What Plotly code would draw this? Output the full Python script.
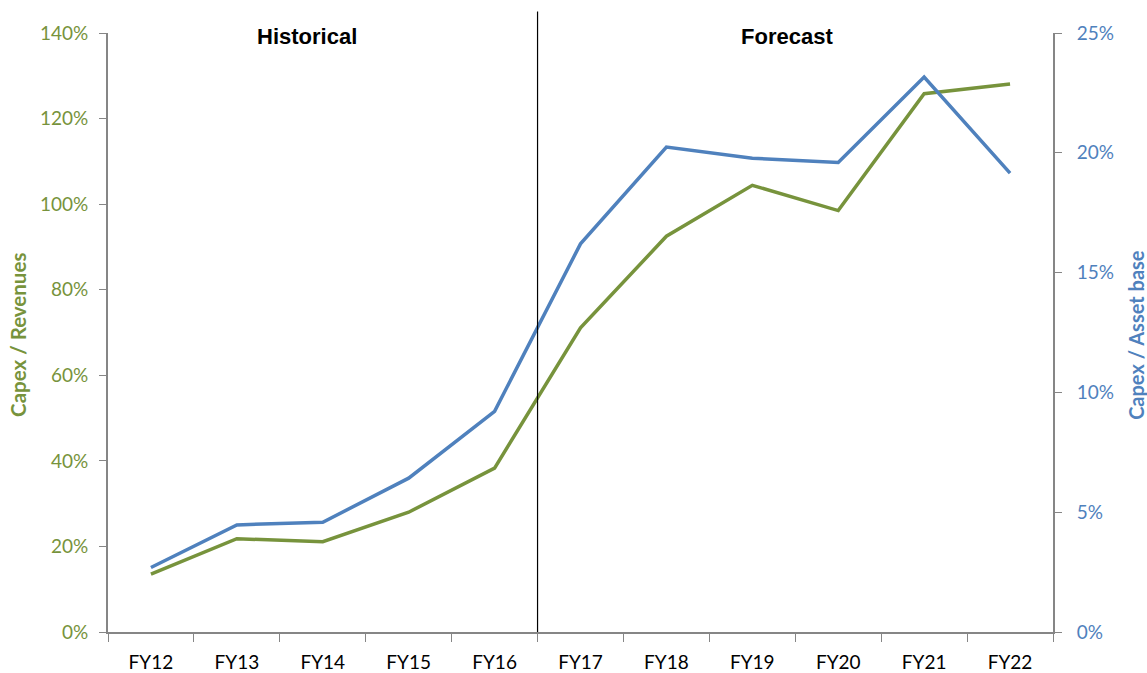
import plotly.graph_objects as go

years = ["FY12", "FY13", "FY14", "FY15", "FY16", "FY17", "FY18", "FY19", "FY20", "FY21", "FY22"]
capex_revenues = [0.135, 0.218, 0.211, 0.280, 0.383, 0.711, 0.925, 1.044, 0.985, 1.258, 1.281]
capex_asset_base = [0.0269, 0.0447, 0.0458, 0.0642, 0.0921, 0.162, 0.2024, 0.1977, 0.196, 0.2316, 0.1915]

GREEN = "#77933C"
BLUE = "#4F81BD"
AXIS = "#868686"
FONT = "Lato"

fig = go.Figure()
fig.add_trace(go.Scatter(x=years, y=capex_revenues, mode="lines", name="Capex / Revenues",
                         line=dict(color=GREEN, width=3.5), yaxis="y"))
fig.add_trace(go.Scatter(x=years, y=capex_asset_base, mode="lines", name="Capex / Asset base",
                         line=dict(color=BLUE, width=3.5), yaxis="y2"))

# Divider between historical and forecast years
fig.add_shape(type="line", xref="x", yref="paper", x0=4.5, x1=4.5, y0=0, y1=1.036,
              line=dict(color="black", width=1.2))

fig.add_annotation(text="<b>Historical</b>", xref="x", yref="paper", x=1.82, y=0.994,
                   yanchor="middle", showarrow=False,
                   font=dict(family="Liberation Sans", size=22, color="black"))
fig.add_annotation(text="<b>Forecast</b>", xref="x", yref="paper", x=7.4, y=0.994,
                   yanchor="middle", showarrow=False,
                   font=dict(family="Liberation Sans", size=22, color="black"))

# Axis titles
fig.add_annotation(text="<b>Capex / Revenues</b>", xref="paper", yref="paper", x=-0.0952, y=0.496,
                   xanchor="center", yanchor="middle", textangle=-90, showarrow=False,
                   font=dict(family=FONT, size=20.5, color=GREEN))
fig.add_annotation(text="<b>Capex / Asset base</b>", xref="paper", yref="paper", x=1.0878, y=0.496,
                   xanchor="center", yanchor="middle", textangle=-90, showarrow=False,
                   font=dict(family=FONT, size=20, color=BLUE))

fig.update_layout(
    width=1147, height=673,
    margin=dict(l=108, r=94, t=33, b=41, autoexpand=False),
    paper_bgcolor="white", plot_bgcolor="white",
    showlegend=False,
    font=dict(family=FONT, size=19),
    xaxis=dict(
        type="category", range=[-0.5, 10.5], automargin=False,
        showline=True, linecolor=AXIS, linewidth=2,
        ticks="outside", tickson="boundaries", ticklen=8, tickcolor=AXIS, tickwidth=1,
        tickfont=dict(family=FONT, size=19, color="black"), ticklabelstandoff=12,
        showgrid=False, zeroline=False,
    ),
    yaxis=dict(
        range=[0, 1.4], tickvals=[0, 0.2, 0.4, 0.6, 0.8, 1.0, 1.2, 1.4], tickformat=".0%",
        automargin=False,
        showline=True, linecolor=AXIS, linewidth=2,
        ticks="outside", ticklen=7, tickcolor=AXIS, tickwidth=1,
        tickfont=dict(family=FONT, size=19, color=GREEN), ticklabelstandoff=7,
        showgrid=False, zeroline=False,
    ),
    yaxis2=dict(
        range=[0, 0.25], tickvals=[0, 0.05, 0.10, 0.15, 0.20, 0.25], tickformat=".0%",
        overlaying="y", side="right", automargin=False,
        showline=True, linecolor=AXIS, linewidth=2,
        ticks="outside", ticklen=7, tickcolor=AXIS, tickwidth=1,
        tickfont=dict(family=FONT, size=19, color=BLUE), ticklabelstandoff=11,
        showgrid=False, zeroline=False,
    ),
)

fig.write_html("out.html")
